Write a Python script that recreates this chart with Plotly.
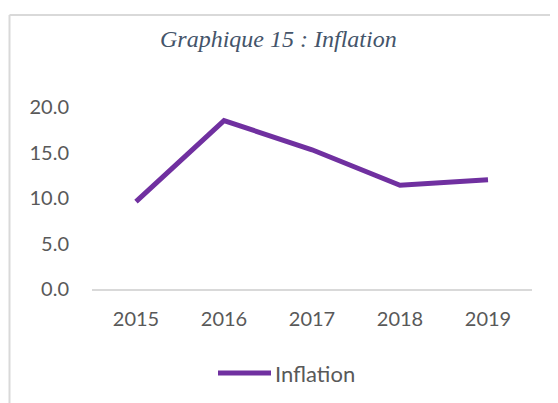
import plotly.graph_objects as go

years = ["2015", "2016", "2017", "2018", "2019"]
inflation = [9.6, 18.5, 15.3, 11.4, 12.0]
y_ticks = [0, 5, 10, 15, 20]
y_tick_labels = ["0.0", "5.0", "10.0", "15.0", "20.0"]
series_name = "Inflation"
title_text = "Graphique 15 : Inflation"

O = 8  # page body margin offset
W, H = 558 - O, 403 - O
L, T = 92 - O, 107 - O
plot_right, plot_bottom = 532 - O, 289 - O
R, B = W - plot_right, H - plot_bottom
pw, ph = plot_right - L, plot_bottom - T

def px(x):
    return (x - O - L) / pw

def py(y):
    return (plot_bottom - (y - O)) / ph

LINE_COLOR = "#7030A0"

fig = go.Figure()
fig.add_trace(go.Scatter(
    x=years, y=inflation, mode="lines", name=series_name,
    line=dict(color=LINE_COLOR, width=5), showlegend=False,
))

fig.update_layout(
    width=W, height=H,
    margin=dict(l=L, r=R, t=T, b=B),
    plot_bgcolor="white", paper_bgcolor="white",
    font=dict(family="Lato", size=20, color="#595959"),
    xaxis=dict(showline=True, linecolor="#d9d9d9", linewidth=2, showgrid=False,
               range=[-0.5, 4.5], ticks="", ticklabelstandoff=11, zeroline=False),
    yaxis=dict(range=[0, 20], tickvals=y_ticks, ticktext=y_tick_labels, showgrid=False,
               zeroline=False, showline=False, ticks="", ticklabelstandoff=22),
    shapes=[
        dict(type="line", xref="paper", yref="paper", x0=px(9.5), x1=px(9.5),
             y0=py(403), y1=py(15), line=dict(color="#d9d9d9", width=2)),
        dict(type="line", xref="paper", yref="paper", x0=px(9.5), x1=px(558),
             y0=py(15), y1=py(15), line=dict(color="#d9d9d9", width=2)),
        # legend key
        dict(type="line", xref="paper", yref="paper", x0=px(218), x1=px(271),
             y0=py(373), y1=py(373), line=dict(color=LINE_COLOR, width=5)),
    ],
    annotations=[
        dict(text=title_text, xref="paper", yref="paper",
             x=px(278), y=py(39), xanchor="center", yanchor="middle", showarrow=False,
             font=dict(family="Liberation Serif", size=24, color="#44546A", style="italic")),
        dict(text=series_name, xref="paper", yref="paper",
             x=px(275), y=py(373), xanchor="left", yanchor="middle", showarrow=False,
             xshift=-2, font=dict(family="Lato", size=22, color="#595959")),
    ],
)
fig.write_html("out.html")
